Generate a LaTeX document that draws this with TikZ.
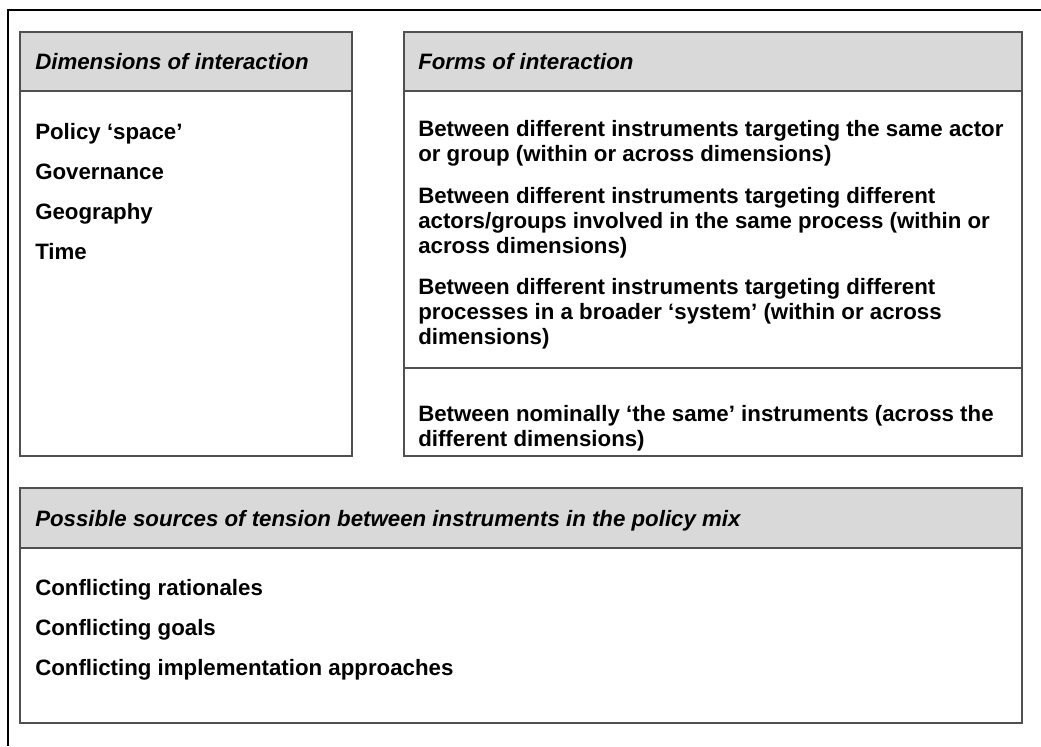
\documentclass[tikz,border=0pt]{standalone}
\usepackage{fontspec}
\setmainfont{Liberation Sans}
\begin{document}
\begin{tikzpicture}[x=0.75pt,y=0.75pt,yscale=-1,xscale=1,
  boxline/.style={draw={rgb,255:red,80;green,80;blue,80},line width=0.9pt},
  headfill/.style={boxline,fill={rgb,255:red,217;green,217;blue,217}},
  bodytext/.style={anchor=base west,inner sep=0pt,align=left,font=\fontsize{16.7}{18.4}\selectfont\bfseries},
  headtext/.style={bodytext,font=\fontsize{16.7}{18.4}\selectfont\bfseries\itshape}]
\useasboundingbox (0,0) rectangle (1041,746);

%Shape: Outer frame
\draw  [line width=2pt] (8,746) -- (8,10) -- (1041,10) ;

%Shape: Rectangle (dimensions header)
\draw  [headfill] (20,32) rectangle (352,91) ;
%Shape: Rectangle (dimensions body)
\draw  [boxline] (20,91) rectangle (352,456) ;
%Shape: Rectangle (forms header)
\draw  [headfill] (404,32) rectangle (1022,91) ;
%Shape: Rectangle (forms body)
\draw  [boxline] (404,91) rectangle (1022,456) ;
%Straight Lines (forms divider)
\draw  [boxline] (404,368) -- (1022,368) ;
%Shape: Rectangle (tension header)
\draw  [headfill] (20,488) rectangle (1022,548) ;
%Shape: Rectangle (tension body)
\draw  [boxline] (20,548) rectangle (1022,723) ;

% Text Node
\draw (35,69) node (dimhead) [headtext] {Dimensions of interaction};
% Text Node
\draw (35,139) node (dimspace) [bodytext] {Policy ‘space’};
% Text Node
\draw (35,179) node (dimgov) [bodytext] {Governance};
% Text Node
\draw (35,219) node (dimgeo) [bodytext] {Geography};
% Text Node
\draw (35,259) node (dimtime) [bodytext] {Time};

% Text Node
\draw (418,69) node (formhead) [headtext] {Forms of interaction};
% Text Node (base is the last line)
\draw (418,161) node (formactor) [bodytext] {Between different instruments targeting the same actor\\or group (within or across dimensions)};
% Text Node
\draw (418,253) node (formgroups) [bodytext] {Between different instruments targeting different\\actors/groups involved in the same process (within or\\across dimensions)};
% Text Node
\draw (418,344) node (formsystem) [bodytext] {Between different instruments targeting different\\processes in a broader ‘system’ (within or across\\dimensions)};
% Text Node
\draw (418,446) node (formsame) [bodytext] {Between nominally ‘the same’ instruments (across the\\different dimensions)};

% Text Node
\draw (35,526) node (tenshead) [headtext] {Possible sources of tension between instruments in the policy mix};
% Text Node
\draw (35,595) node (tensrat) [bodytext] {Conflicting rationales};
% Text Node
\draw (35,635) node (tensgoal) [bodytext] {Conflicting goals};
% Text Node
\draw (35,675) node (tensimpl) [bodytext] {Conflicting implementation approaches};

\end{tikzpicture}
\end{document}
